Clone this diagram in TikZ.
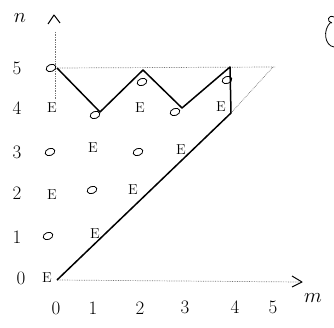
\documentclass[tikz,border=0pt]{standalone}
\usetikzlibrary{arrows.meta,shapes.geometric}
\begin{document}
\begin{tikzpicture}[x=1pt,y=-1pt,
  lbl/.style={font=\fontsize{19}{22}\selectfont,inner sep=0pt},
  axl/.style={font=\huge,inner sep=0pt},
  pt/.style={font=\Large,inner sep=0pt},
  ov/.style={draw,ellipse,minimum width=10pt,minimum height=7pt,inner sep=0pt,rotate=20,line width=0.8pt},
  path/.style={line width=1.5pt,line join=round},
  dots/.style={densely dotted,line width=0.7pt,black!55}]
\useasboundingbox (0,0) rectangle (334,328);
% vertices
\coordinate (p05) at (57,68);
\coordinate (p14) at (100,112);
\coordinate (p25) at (143,70);
\coordinate (p34) at (182,108);
\coordinate (p45) at (230,67);
\coordinate (p44) at (231,113);
\coordinate (p00) at (57,280);
\coordinate (ntop) at (55,32);
\coordinate (nbot) at (55,100);
\coordinate (hr) at (275,67);
\coordinate (d55) at (273,67);
\coordinate (mend) at (300,282);
% axes (dotted)
\draw[dots] (ntop) -- (nbot);
\draw[dots] (p05) -- (hr);
\draw[dots] (p44) -- (d55);
\draw[dots] (p00) -- (mend);
% axis arrow heads and labels
\draw[line width=1pt,line join=round] (48,24) -- (54,15) -- (60,23);
\draw[line width=1pt,line join=round] (292,276) -- (302,282) -- (292,287);
\node[axl] (nlab) at (20,18) {$n$};
\node[axl] (mlab) at (313,298) {$m$};
% partial figure top right
\draw[line width=0.8pt] (334,17) .. controls (328,14) and (326,22) .. (332,23);
\draw[line width=0.8pt] (331,22) .. controls (322,30) and (325,46) .. (334,47);
% main path
\draw[path] (p05) -- (p14) -- (p25) -- (p34) -- (p45) -- (p44) -- (p00);
% row labels
\node[lbl] (r5) at (17,68) {5};
\node[lbl] (r4) at (17,108) {4};
\node[lbl] (r3) at (17,152) {3};
\node[lbl] (r2) at (17,193) {2};
\node[lbl] (r1) at (17,237) {1};
\node[lbl] (r0) at (21,278) {0};
% column labels
\node[lbl] (c0) at (56,308) {0};
\node[lbl] (c1) at (93,308) {1};
\node[lbl] (c2) at (140,308) {2};
\node[lbl] (c3) at (185,307) {3};
\node[lbl] (c4) at (235,307) {4};
\node[lbl] (c5) at (273,307) {5};
% grid point marks
\node[ov] (o05) at (51,68) {};
\node[ov] (o25) at (142,82) {};
\node[ov] (o45) at (227,80) {};
\node[pt] (e04) at (52,108) {E};
\node[ov] (o14) at (95,115) {};
\node[pt] (e24) at (140,108) {E};
\node[ov] (o34) at (175,112) {};
\node[pt] (e44) at (221,107) {E};
\node[ov] (o03) at (50,152) {};
\node[pt] (e13) at (93,148) {E};
\node[ov] (o23) at (138,152) {};
\node[pt] (e33) at (181,150) {E};
\node[pt] (e02) at (52,195) {E};
\node[ov] (o12) at (92,190) {};
\node[pt] (e22) at (133,190) {E};
\node[ov] (o01) at (48,236) {};
\node[pt] (e11) at (95,234) {E};
\node[pt] (e00) at (47,278) {E};
\end{tikzpicture}
\end{document}
